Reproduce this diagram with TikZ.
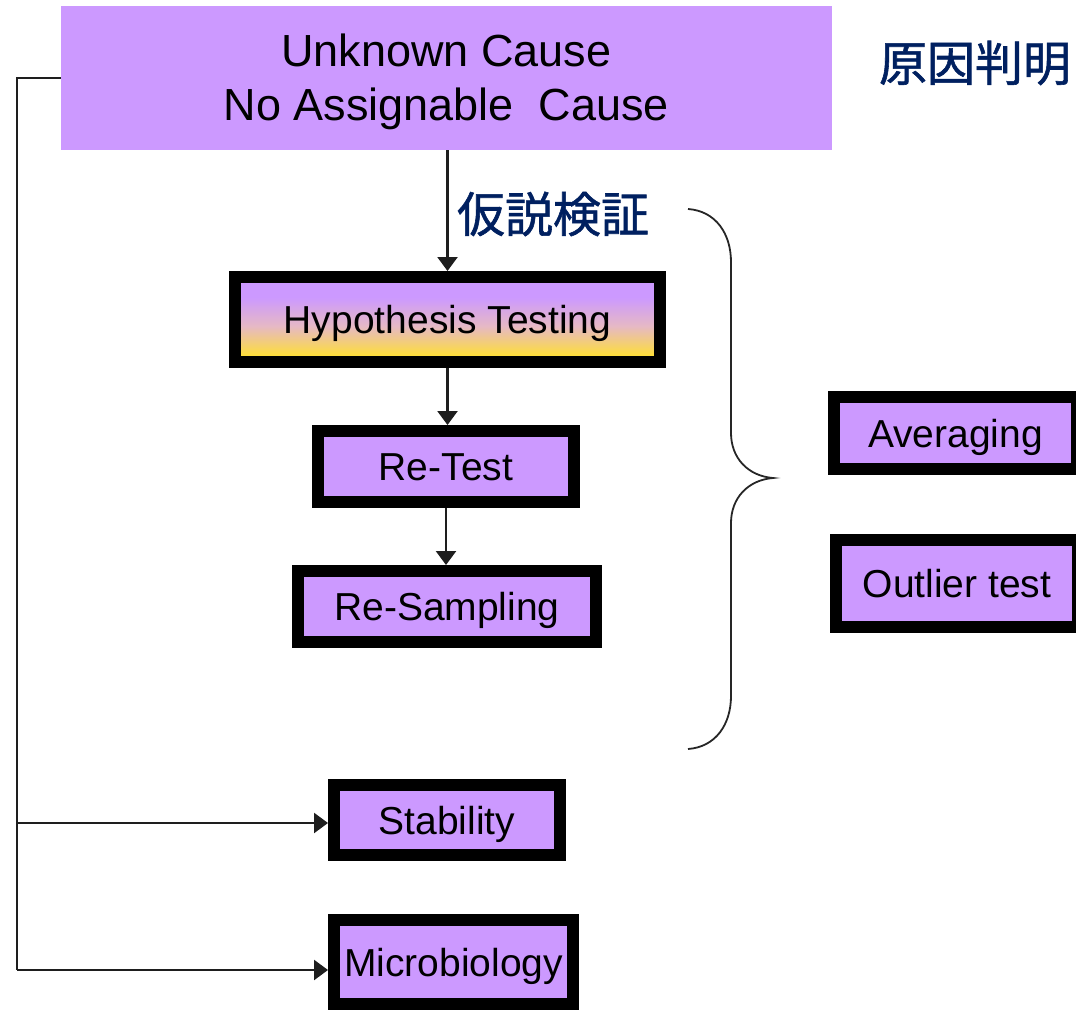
\documentclass[tikz,border=0pt]{standalone}
\usepackage{fontspec}
\setmainfont{Liberation Sans}
\newfontfamily\jpfont[FakeBold=1.2]{Noto Sans CJK JP}
\usetikzlibrary{arrows.meta}

\definecolor{lav}{HTML}{CC99FF}
\definecolor{hypmid}{HTML}{E6B9C4}
\definecolor{hypyel}{HTML}{FFE033}
\definecolor{navy}{HTML}{002060}
\definecolor{wire}{HTML}{1E1E1E}

% lavender on top fading through rose into yellow at the bottom
\pgfdeclareverticalshading{hypshade}{100bp}{color(0bp)=(hypyel); color(28bp)=(hypyel); color(46bp)=(hypmid); color(63bp)=(lav); color(100bp)=(lav)}

\begin{document}
\begin{tikzpicture}[x=1pt,y=-1pt,
  stepbox/.style={draw=black, line width=12pt, fill=lav, inner sep=0pt,
    font=\fontsize{39}{47}\selectfont, text=black,
    text height=28pt, text depth=0pt},
  link/.style={draw=wire, line width=2.4pt, -{Triangle[width=20pt,length=14pt]}},
  wireline/.style={draw=wire, line width=2.4pt},
  bracket/.style={draw=black!85, line width=1.8pt},
  jplabel/.style={font=\jpfont\fontsize{48}{56}\selectfont, text=navy, inner sep=0pt}]

\clip (0,0) rectangle (1076,1011);

% top heading box, its two lines set a little below the centre
\node[fill=lav, inner sep=0pt, minimum width=771pt, minimum height=144pt,
      label={[align=center, font=\fontsize{45}{54}\selectfont, yshift=-4pt]center:{Unknown Cause\\No Assignable\ \ Cause}}]
  (top) at (446.5,78) {};
\node[jplabel] (found) at (975,63) {原因判明};

% main chain
\node[stepbox, shade, shading=hypshade, minimum width=425pt, minimum height=85pt]
  (hyp) at (447.5,319.5) {Hypothesis Testing};
\node[stepbox, minimum width=256pt, minimum height=71pt] (retest) at (446,466.5) {Re-Test};
\node[stepbox, minimum width=298pt, minimum height=71pt] (resamp) at (447,606.5) {Re-Sampling};
\node[jplabel] (hyplabel) at (553,214) {仮説検証};

% side options
\node[stepbox, minimum width=243pt, minimum height=72pt] (avg) at (955.5,433) {Averaging};
\node[stepbox, minimum width=242pt, minimum height=87pt] (outl) at (957,583.5) {Outlier test};

% branches from the left rail
\node[stepbox, minimum width=226pt, minimum height=70pt] (stab) at (447,820) {Stability};
\node[stepbox, minimum width=239pt, minimum height=84pt] (micro) at (453.5,962) {Microbiology};

\draw[link] (hyp.north |- top.south) -- (hyp.north);
\draw[link] (hyp.south) -- (hyp.south |- retest.north);
\draw[link] (retest.south) -- (retest.south |- resamp.north);

\coordinate (j0) at (17,78);
\coordinate (j1) at (17,823);
\coordinate (j2) at (17,970);
\draw[wireline] (top.west |- j0) -- (j0) -- (j2);
\draw[link] (j1) -- (j1 -| stab.west);
\draw[link] (j2) -- (j2 -| micro.west);

% curly brace grouping the test chain
\draw[bracket] (688,209) .. controls (716,211) and (731,234) .. (731,262)
  -- (731,433) .. controls (731,458) and (748,476) .. (773,478)
  .. controls (748,480) and (731,498) .. (731,523)
  -- (731,696) .. controls (731,724) and (716,747) .. (688,749);
\end{tikzpicture}
\end{document}
